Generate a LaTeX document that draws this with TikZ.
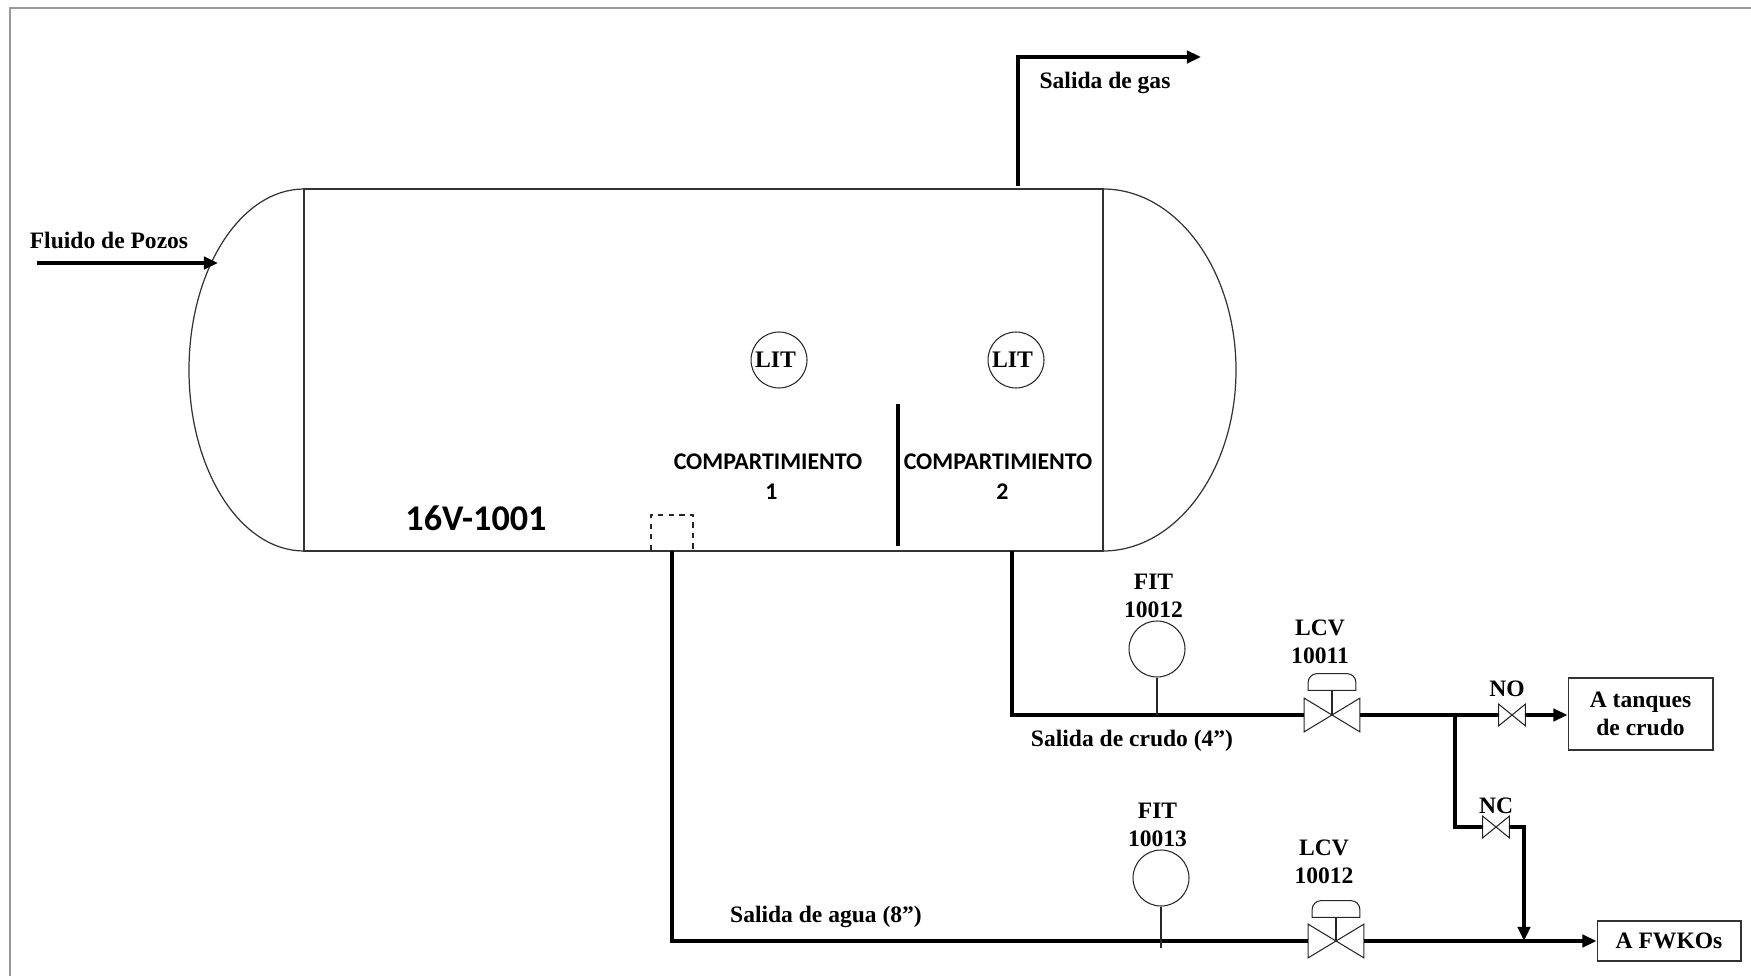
\documentclass[tikz,border=0pt]{standalone}
\usepackage{fontspec}
\setmainfont{Liberation Serif}
\newfontfamily\calibrifont{Carlito}
\usetikzlibrary{arrows.meta, positioning}

\begin{document}
\begin{tikzpicture}[
        x=0.02cm, y=-0.02cm,
        vessel_line/.style={draw=black!80, line width=0.7pt},
        pipe_line/.style={draw=black, line width=2.1pt},
        pipe_arrow/.style={-{Triangle[length=8pt, width=7pt]}, draw=black, line width=2.1pt},
        inst_line/.style={draw=black!85, line width=0.6pt},
        inst_circle/.style={circle, draw=black!85, line width=0.6pt, minimum size=1.12cm, inner sep=0pt, font=\bfseries\fontsize{13.5}{16}\selectfont},
        lbl/.style={font=\bfseries\fontsize{13.4}{16}\selectfont, align=center, inner sep=0pt},
        comp_lbl/.style={font=\calibrifont\bfseries\fontsize{13.6}{17}\selectfont, align=center, inner sep=0pt},
        big_valve/.style={rectangle, minimum width=1.1cm, minimum height=0.66cm, inner sep=0pt},
        small_valve/.style={rectangle, minimum width=0.52cm, minimum height=0.42cm, inner sep=0pt},
        actuator/.style={rectangle, minimum width=0.94cm, minimum height=0.32cm, inner sep=0pt},
        dest_box/.style={rectangle, draw=black!80, line width=0.6pt, align=center, inner sep=0pt, font=\bfseries\fontsize{13.4}{16}\selectfont}
    ]
    \useasboundingbox (0,0) rectangle (1751,976);
    \draw[draw=black!40, line width=1.1pt] (10,976) -- (10,8) -- (1751,8);

    % vessel
    \coordinate (top_left) at (304,189);
    \coordinate (top_right) at (1103,189);
    \coordinate (bot_left) at (304,551);
    \coordinate (bot_right) at (1103,551);
    \draw[vessel_line] (top_left) -- (top_right) -- (bot_right) -- (bot_left) -- cycle;
    \draw[vessel_line] (top_left) arc[start angle=-90, end angle=-270, x radius=115, y radius=181];
    \draw[vessel_line] (top_right) arc[start angle=-90, end angle=90, x radius=133, y radius=181];
    \draw[draw=black, line width=2.1pt] (898,404) -- (898,546);
    \draw[inst_line, dashed] (651,550) |- (693,515) -- (693,550);

    \node[comp_lbl] (comp_a) at (768,477) {COMPARTIMIENTO\\\hspace*{4pt}1};
    \node[comp_lbl] (comp_b) at (998,477) {COMPARTIMIENTO\\\hspace*{5pt}2};
    \node[font=\calibrifont\bfseries\fontsize{20.6}{24}\selectfont, inner sep=0pt] (tag) at (476,518) {16V-1001};
    \node[inst_circle] (lit_a) at (779,360) {\hspace*{-4pt}\raisebox{-1pt}{LIT}};
    \node[inst_circle] (lit_b) at (1016,360) {\hspace*{-4pt}\raisebox{-1pt}{LIT}};

    % inlet and gas outlet
    \coordinate (inlet) at (37,263);
    \coordinate (inlet_end) at (218,263);
    \node[lbl] (inlet_lbl) at (109,240) {Fluido de Pozos};
    \draw[pipe_arrow] (inlet) -- (inlet_end);
    \coordinate (gas_start) at (1018,186);
    \coordinate (gas_end) at (1201,57);
    \draw[pipe_arrow] (gas_start) |- (gas_end);
    \node[lbl] (gas_lbl) at (1105,83) {Salida de gas};

    % instruments and valves
    \node[inst_circle] (fit_a) at (1157,649) {};
    \node[inst_circle] (fit_b) at (1161,878) {};
    \node[lbl, above=1.5pt of fit_a, xshift=-0.07cm] (fit_a_lbl) {FIT\\10012};
    \node[lbl, above=1.5pt of fit_b, xshift=-0.07cm] (fit_b_lbl) {FIT\\10013};
    \node[big_valve] (lcv_a) at (1332,715) {};
    \node[big_valve] (lcv_b) at (1336,941) {};
    \node[actuator] (act_a) at (1332,682) {};
    \node[actuator] (act_b) at (1336,909) {};
    \node[lbl, above=5.5pt of act_a, xshift=-0.24cm] (lcv_a_lbl) {LCV\\10011};
    \node[lbl, above=9.5pt of act_b, xshift=-0.24cm] (lcv_b_lbl) {LCV\\10012};
    \node[small_valve] (no_valve) at (1512,715) {};
    \node[small_valve] (nc_valve) at (1496,827) {};
    \node[lbl, above=4pt of no_valve, xshift=-0.1cm] (no_lbl) {NO};
    \node[lbl, above=1.2pt of nc_valve] (nc_lbl) {NC};
    \foreach \v in {lcv_a, lcv_b, no_valve, nc_valve}
        \draw[inst_line] (\v.north west) -- (\v.south east) -- (\v.north east) -- (\v.south west) -- cycle;
    \foreach \a/\v in {act_a/lcv_a, act_b/lcv_b} {
        \draw[inst_line] (\a.south west) [rounded corners=5pt] -- (\a.north west) -- (\a.north east) [sharp corners] -- (\a.south east) -- cycle;
        \draw[inst_line] (\a.south) -- (\v.center);
    }

    % destinations
    \node[dest_box, minimum width=2.9cm, minimum height=1.44cm] (tanques) at (1640.5,714) {A tanques\\de crudo};
    \node[dest_box, minimum width=2.88cm, minimum height=0.8cm] (fwko) at (1669,941) {A FWKOs};

    % crude line
    \coordinate (crude_start) at (1012,551);
    \coordinate (crude_tee) at (1455,715);
    \draw[pipe_line] (crude_start) |- (lcv_a.west);
    \draw[pipe_line] (lcv_a.east) -- (no_valve.west);
    \draw[pipe_arrow] (no_valve.east) -- (tanques.west |- no_valve.east);
    \draw[pipe_line] (crude_tee) |- (nc_valve.west);
    \coordinate (nc_join) at (1524,941);
    \draw[pipe_arrow] (nc_valve.east) -| (nc_join);
    \draw[inst_line] (fit_a.south) -- (fit_a.south |- lcv_a);
    \node[lbl] (crude_lbl) at (1132,741) {Salida de crudo (4”)};

    % water line
    \coordinate (water_start) at (672,551);
    \draw[pipe_line] (water_start) |- (lcv_b.west);
    \draw[pipe_arrow] (lcv_b.east) -- (fwko.west);
    \draw[inst_line] (fit_b.south) -- ++(0,41);
    \node[lbl] (water_lbl) at (826,917) {Salida de agua (8”)};
\end{tikzpicture}
\end{document}
